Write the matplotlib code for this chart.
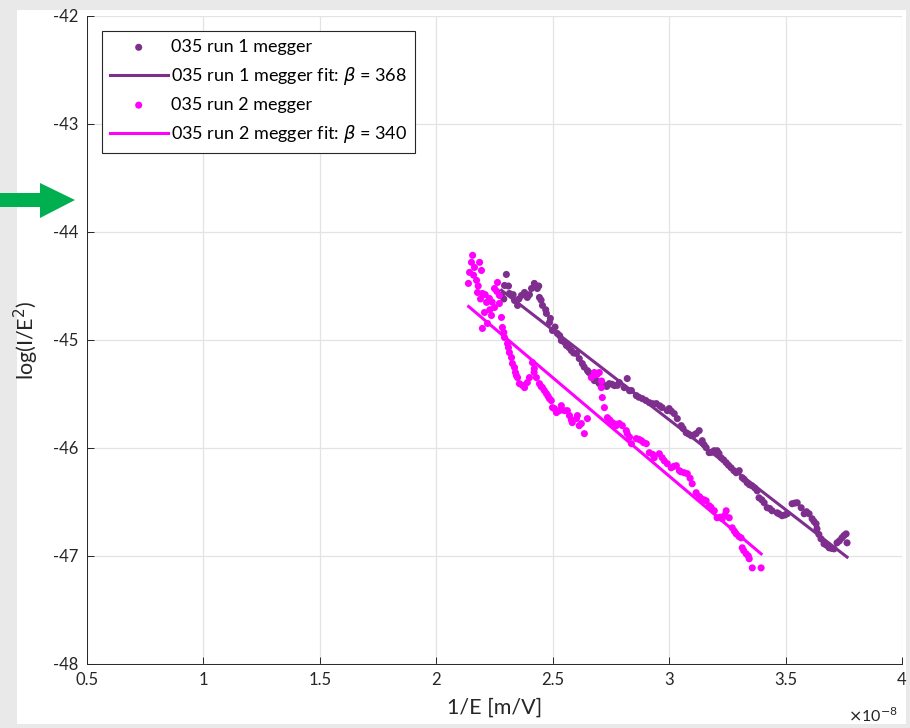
import matplotlib.pyplot as plt
from matplotlib.patches import Polygon, Rectangle

plt.rcParams['font.family'] = ['Lato', 'DejaVu Sans']
plt.rcParams['axes.unicode_minus'] = False

# data, x in units of 1e-8 m/V
run1_x = [2.280, 2.293, 2.301, 2.314, 2.336, 2.349, 2.366, 2.379, 2.391, 2.409,
          2.421, 2.434, 2.443, 2.456, 2.473, 2.486, 2.499, 2.520, 2.537, 2.559,
          2.580, 2.602, 2.614, 2.627, 2.649, 2.666, 2.679, 2.700, 2.722, 2.743,
          2.765, 2.786, 2.807, 2.820, 2.838, 2.859, 2.885, 2.915, 2.945, 2.970,
          2.992, 3.000, 3.022, 3.035, 3.052, 3.073, 3.095, 3.116, 3.129, 3.142,
          3.159, 3.172, 3.193, 3.206, 3.223, 3.245, 3.266, 3.288, 3.301, 3.314,
          3.335, 3.356, 3.378, 3.386, 3.408, 3.421, 3.442, 3.464, 3.485, 3.507,
          3.528, 3.550, 3.567, 3.580, 3.601, 3.614, 3.631, 3.635, 3.652, 3.665,
          3.687, 3.708, 3.721, 3.742, 3.760, 3.764,
          2.290, 2.310, 2.330, 2.355, 2.400, 2.440, 2.450, 2.470, 2.490, 2.510,
          2.530, 2.550, 2.570, 2.590, 2.635, 2.655, 2.690, 2.712, 2.732, 2.755,
          2.778, 2.830, 2.870, 2.900, 2.930, 2.960, 3.010, 3.060, 3.083, 3.105,
          3.150, 3.182, 3.214, 3.234, 3.255, 3.278, 3.322, 3.345, 3.368, 3.398,
          3.432, 3.472, 3.497, 3.540, 3.590, 3.622, 3.643, 3.676, 3.698, 3.731,
          3.751]
run1_y = [-44.587, -44.495, -44.393, -44.569, -44.634, -44.680, -44.587, -44.560, -44.606, -44.523,
          -44.476, -44.523, -44.606, -44.680, -44.754, -44.838, -44.912, -44.940, -45.005, -45.051,
          -45.098, -45.125, -45.172, -45.218, -45.283, -45.329, -45.376, -45.404, -45.422, -45.404,
          -45.422, -45.394, -45.441, -45.357, -45.468, -45.515, -45.543, -45.580, -45.589, -45.626,
          -45.654, -45.635, -45.682, -45.728, -45.793, -45.858, -45.886, -45.867, -45.839, -45.932,
          -45.997, -46.043, -46.025, -46.025, -46.090, -46.136, -46.183, -46.229, -46.210, -46.275,
          -46.322, -46.350, -46.396, -46.461, -46.507, -46.553, -46.581, -46.600, -46.627, -46.609,
          -46.516, -46.507, -46.553, -46.609, -46.609, -46.655, -46.702, -46.748, -46.841, -46.887,
          -46.924, -46.934, -46.878, -46.832, -46.795, -46.878,
          -44.620, -44.500, -44.580, -44.620, -44.580, -44.500, -44.630, -44.720, -44.800, -44.880,
          -44.960, -45.020, -45.070, -45.120, -45.250, -45.300, -45.380, -45.400, -45.430, -45.410,
          -45.420, -45.470, -45.530, -45.560, -45.590, -45.610, -45.660, -45.820, -45.870, -45.880,
          -45.970, -46.040, -46.050, -46.110, -46.160, -46.210, -46.290, -46.340, -46.370, -46.480,
          -46.560, -46.610, -46.620, -46.510, -46.590, -46.680, -46.800, -46.900, -46.930, -46.860,
          -46.810]

run2_x = [2.156, 2.151, 2.143, 2.138, 2.164, 2.186, 2.194, 2.173, 2.177, 2.198,
          2.216, 2.228, 2.207, 2.198, 2.220, 2.237, 2.250, 2.263, 2.250, 2.271,
          2.271, 2.280, 2.284, 2.293, 2.306, 2.314, 2.323, 2.327, 2.336, 2.344,
          2.349, 2.357, 2.379, 2.391, 2.400, 2.413, 2.421, 2.430, 2.443, 2.456,
          2.464, 2.473, 2.486, 2.494, 2.499, 2.507, 2.516, 2.529, 2.537, 2.550,
          2.563, 2.572, 2.584, 2.602, 2.606, 2.614, 2.623, 2.636, 2.649,
          2.666, 2.679, 2.700, 2.709, 2.713, 2.722, 2.735, 2.756, 2.773, 2.786,
          2.799, 2.816, 2.820, 2.838, 2.859, 2.881, 2.902, 2.915, 2.936, 2.958,
          2.979, 2.992, 3.009, 3.031, 3.044, 3.065, 3.078, 3.099, 3.116, 3.138,
          3.159, 3.172, 3.194, 3.206, 3.228, 3.245, 3.258, 3.271, 3.288, 3.309,
          3.314, 3.331, 3.344, 3.357, 3.395,
          2.160, 2.180, 2.190, 2.210, 2.230, 2.240, 2.260, 2.290, 2.310, 2.340,
          2.370, 2.420, 2.450, 2.480, 2.520, 2.580, 2.690, 2.710, 2.745, 2.770,
          2.830, 2.870, 2.890, 2.930, 2.970, 3.020, 3.050, 3.090, 3.130, 3.150,
          3.180, 3.220, 3.240, 3.280, 3.300, 3.320, 3.340]
run2_y = [-44.216, -44.281, -44.374, -44.476, -44.328, -44.281, -44.356, -44.448, -44.560, -44.569,
          -44.652, -44.615, -44.745, -44.893, -44.847, -44.773, -44.699, -44.467, -44.523, -44.587,
          -44.662, -44.791, -44.884, -44.977, -45.033, -45.116, -45.162, -45.218, -45.255, -45.329,
          -45.348, -45.404, -45.441, -45.394, -45.348, -45.209, -45.264, -45.348, -45.404, -45.441,
          -45.468, -45.496, -45.543, -45.561, -45.626, -45.635, -45.672, -45.654, -45.608, -45.654,
          -45.654, -45.700, -45.765, -45.728, -45.700, -45.793, -45.774, -45.867, -45.728,
          -45.348, -45.301, -45.301, -45.441, -45.533, -45.626, -45.719, -45.765, -45.793, -45.774,
          -45.793, -45.839, -45.867, -45.960, -45.913, -45.932, -45.960, -46.043, -46.090, -46.053,
          -46.118, -46.145, -46.183, -46.164, -46.210, -46.229, -46.238, -46.331, -46.414, -46.470,
          -46.489, -46.535, -46.581, -46.646, -46.655, -46.581, -46.646, -46.739, -46.795, -46.832,
          -46.924, -46.980, -47.026, -47.110, -47.110,
          -44.400, -44.500, -44.620, -44.580, -44.720, -44.650, -44.550, -44.930, -45.070, -45.300,
          -45.420, -45.300, -45.430, -45.520, -45.660, -45.740, -45.320, -45.380, -45.740, -45.780,
          -45.900, -45.920, -45.950, -46.060, -46.090, -46.170, -46.220, -46.280, -46.450, -46.480,
          -46.550, -46.640, -46.620, -46.770, -46.820, -46.950, -47.000]

# fitted lines (end points)
fit1_x = [2.280, 3.764]
fit1_y = [-44.54, -47.01]
fit2_x = [2.139, 3.395]
fit2_y = [-44.69, -46.98]

beta1 = 368
beta2 = 340

purple = '#7E2F8E'
magenta = '#FF00FF'

fig = plt.figure(figsize=(9.1, 7.28), dpi=100, facecolor='#e9e9e9')
# white slide area behind the axes
fig.patches.append(Rectangle((17 / 910, 1 - 724 / 728), 889 / 910, 714 / 728,
                             transform=fig.transFigure, facecolor='white',
                             edgecolor='none', zorder=-10))

ax = fig.add_axes([87 / 910, 64 / 728, 815 / 910, 648 / 728])
ax.set_facecolor('white')

ax.scatter(run1_x, run1_y, s=26, color=purple, edgecolors='none',
           label='035 run 1 megger', zorder=3)
ax.plot(fit1_x, fit1_y, color=purple, lw=2.2,
        label='035 run 1 megger fit: $\\beta$ = %d' % beta1, zorder=4)
ax.scatter(run2_x, run2_y, s=26, color=magenta, edgecolors='none',
           label='035 run 2 megger', zorder=3)
ax.plot(fit2_x, fit2_y, color=magenta, lw=2.2,
        label='035 run 2 megger fit: $\\beta$ = %d' % beta2, zorder=4)

ax.set_xlim(0.5, 4)
ax.set_ylim(-48, -42)
ax.set_xticks([0.5, 1, 1.5, 2, 2.5, 3, 3.5, 4])
ax.set_xticklabels(['0.5', '1', '1.5', '2', '2.5', '3', '3.5', '4'])
ax.set_yticks([-48, -47, -46, -45, -44, -43, -42])

ax.grid(True, color='#e3e3e3', lw=0.9)
ax.set_axisbelow(True)
ax.spines['top'].set_visible(False)
ax.spines['right'].set_visible(False)
for s in ['left', 'bottom']:
    ax.spines[s].set_color('#262626')
    ax.spines[s].set_linewidth(0.7)
ax.tick_params(direction='in', length=5, width=0.7, color='#262626',
               labelsize=12, labelcolor='#262626', pad=6)

ax.set_xlabel('1/E [m/V]', fontsize=15.5, color='#262626', labelpad=7)
ax.set_ylabel('log(I/E$^2$)', fontsize=15.5, color='#262626', labelpad=9)

fig.text(0.987, 1 - 716 / 728, '$\\times$10$^{-8}$', ha='right', va='center',
         fontsize=11.5, color='#262626')

leg = ax.legend(loc='upper left', bbox_to_anchor=(0.018, 0.977), borderaxespad=0,
                fontsize=13, frameon=True, fancybox=False, framealpha=1,
                edgecolor='#262626', handlelength=3.2, handletextpad=0.2,
                labelspacing=0.55, scatterpoints=1, borderpad=0.45)
leg.get_frame().set_linewidth(0.8)

# green arrow on the left
arrow_px = [(0, 193), (40, 193), (40, 183), (75, 200), (40, 218), (40, 207), (0, 207)]
fig.patches.append(Polygon([(x / 910, 1 - y / 728) for x, y in arrow_px], closed=True,
                           transform=fig.transFigure, facecolor='#00B050',
                           edgecolor='none', zorder=5))

fig.savefig('out.png', dpi=100, facecolor=fig.get_facecolor())
